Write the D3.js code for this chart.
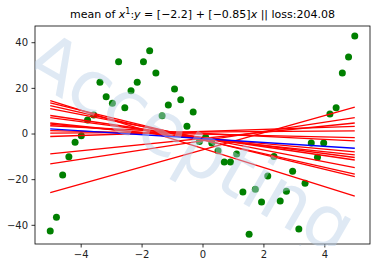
<!DOCTYPE html>
<html>
<head>
<meta charset="utf-8">
<script src="https://cdn.jsdelivr.net/npm/d3@7"></script>
<style>
  body { margin: 0; background: #fff; }
  text { font-family: "DejaVu Sans", sans-serif; }
</style>
</head>
<body>
<div id="chart"></div>
<script>
// scatter points (x = linspace(-5,5,50))
const pointY = [-42.7, -36.7, -18.2, -10.2, -3.8, -1.0, 5.9, 8.1, 22.5, 16.1,
  13.3, 31.4, 11.3, 18.7, 22.5, 31.4, 36.3, 26.5, 7.8, 12.5,
  19.5, 14.8, 3.2, 9.4, -3.5, -1.6, -4.2, -7.6, -12.5, -12.5,
  -9.0, -25.6, -44.1, -24.4, -30.0, -18.6, -10.1, -29.6, -25.3, -16.5,
  -41.8, -21.8, -4.2, -10.4, -4.2, 8.5, 11.3, 26.5, 33.5, 42.7];
const pointX = pointY.map((d, i) => -5 + i * 10 / 49);

// red fitted lines: value at x=-5 and at x=5
const lineLeft  = [14.4, 13.4, 12.2, 10.9, 7.9, 7.0, 4.6, 4.1, 3.4, 1.3, 0.2, -1.3, -8.9, -13.3, -25.9];
const lineRight = [-27.4, -18.9, -17.8, -14.9, -11.6, -10.5, -9.4, -8.0, -3.2, -1.8, 1.2, 3.1, 4.6, 7.0, 11.6];

// mean line y = a + b x
const meanA = -2.2, meanB = -0.85;

const xTicks = [-4, -2, 0, 2, 4];
const yTicks = [-40, -20, 0, 20, 40];

const W = 377, H = 268;
const margin = {top: 26, right: 7, bottom: 24, left: 35};

const svg = d3.select("#chart").append("svg")
  .attr("width", W).attr("height", H);

const x = d3.scaleLinear().domain([-5.5, 5.5]).range([margin.left, W - margin.right]);
const y = d3.scaleLinear().domain([-48.4, 47.1]).range([H - margin.bottom, margin.top]);

const g = svg.append("g");

g.selectAll("circle.pt")
  .data(pointY)
  .join("circle")
  .attr("class", "pt")
  .attr("cx", (d, i) => x(pointX[i]))
  .attr("cy", d => y(d))
  .attr("r", 3.5)
  .attr("fill", "green");

g.selectAll("line.fit")
  .data(lineLeft)
  .join("line")
  .attr("class", "fit")
  .attr("x1", x(-5)).attr("x2", x(5))
  .attr("y1", d => y(d))
  .attr("y2", (d, i) => y(lineRight[i]))
  .style("stroke", "red")
  .style("stroke-width", 1.3);

g.append("line")
  .attr("x1", x(-5)).attr("x2", x(5))
  .attr("y1", y(meanA + meanB * -5))
  .attr("y2", y(meanA + meanB * 5))
  .style("stroke", "blue")
  .style("stroke-width", 1.4);

// frame
svg.append("rect")
  .attr("x", margin.left).attr("y", margin.top)
  .attr("width", W - margin.left - margin.right)
  .attr("height", H - margin.top - margin.bottom)
  .attr("fill", "none")
  .style("stroke", "#000")
  .style("stroke-width", 0.8);

const xAxis = svg.append("g")
  .attr("transform", `translate(0,${H - margin.bottom})`)
  .call(d3.axisBottom(x).tickValues(xTicks).tickSize(3.5).tickPadding(3.5).tickFormat(d => d < 0 ? "\u2212" + Math.abs(d) : d));
const yAxis = svg.append("g")
  .attr("transform", `translate(${margin.left},0)`)
  .call(d3.axisLeft(y).tickValues(yTicks).tickSize(3.5).tickPadding(3.5).tickFormat(d => d < 0 ? "\u2212" + Math.abs(d) : d));

[xAxis, yAxis].forEach(a => {
  a.select(".domain").remove();
  a.selectAll("text").style("font-size", "10px").style("font-family", "DejaVu Sans").attr("fill", "#222");
  a.selectAll("line").style("stroke", "#000").style("stroke-width", 0.8);
});

// watermark over the plot area
svg.append("defs").append("clipPath").attr("id", "wm")
  .append("rect").attr("x", margin.left).attr("y", margin.top)
  .attr("width", W - margin.left - margin.right)
  .attr("height", H - margin.top - margin.bottom + 2);
svg.append("g")
  .attr("clip-path", "url(#wm)")
  .append("text")
  .attr("transform", `translate(188,148) rotate(30)`)
  .attr("text-anchor", "middle")
  .attr("dominant-baseline", "middle")
  .style("font-size", "74px")
  .style("fill", "#b9d0e8")
  .style("opacity", 0.45)
  .text("Accepting");

// title with math parts
const title = svg.append("text")
  .attr("x", (margin.left + W - margin.right) / 2)
  .attr("y", 18)
  .attr("text-anchor", "middle")
  .style("font-size", "11px");
title.append("tspan").text("mean of ");
title.append("tspan").style("font-style", "italic").text("x");
title.append("tspan").attr("dy", -4).style("font-size", "8px").text("1");
title.append("tspan").attr("dy", 4).text(":");
title.append("tspan").style("font-style", "italic").text("y");
title.append("tspan").text(" = [\u22122.2] + [\u22120.85]");
title.append("tspan").style("font-style", "italic").text("x");
title.append("tspan").text(" || loss:204.08");
</script>
</body>
</html>
